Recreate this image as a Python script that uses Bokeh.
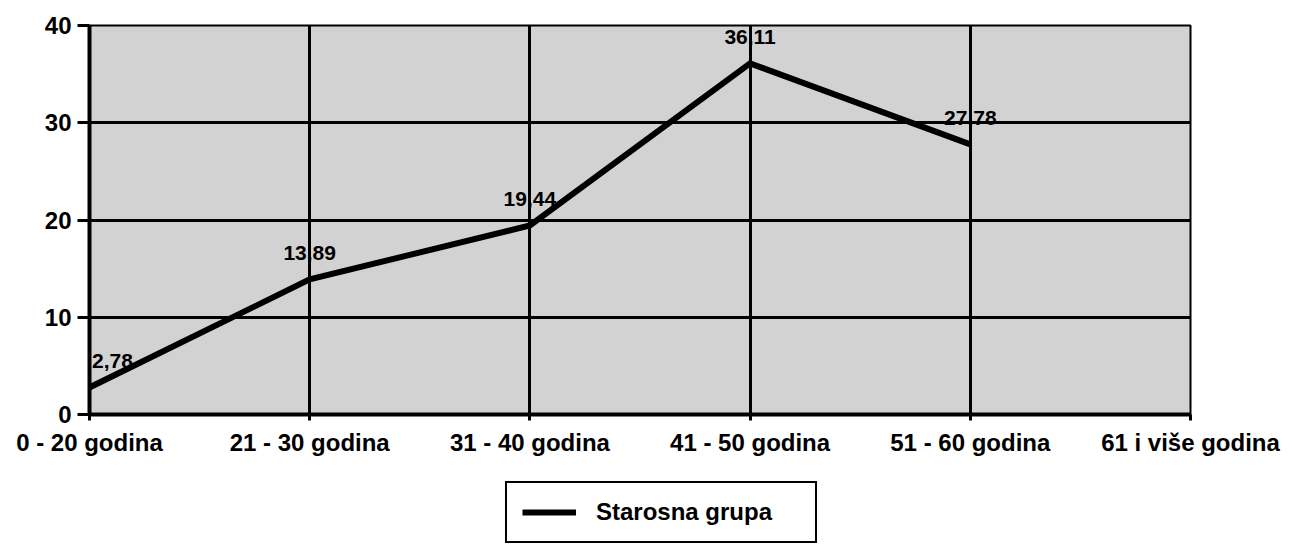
from bokeh.plotting import figure
from bokeh.layouts import column
from bokeh.models import Range1d, FixedTicker, ColumnDataSource, Legend, LegendItem
from bokeh.core.properties import value
from bokeh.embed import file_html
from bokeh.resources import INLINE

categories = ["0 - 20 godina", "21 - 30 godina", "31 - 40 godina", "41 - 50 godina", "51 - 60 godina", "61 i više godina"]
values = [2.78, 13.89, 19.44, 36.11, 27.78]
value_labels = ["2,78", "13,89", "19,44", "36,11", "27,78"]
y_ticks = [0, 10, 20, 30, 40]
series_name = "Starosna grupa"

FONT = "Liberation Sans"

p = figure(width=1303, height=466, output_backend="svg", toolbar_location=None,
           x_range=Range1d(0, len(categories) - 1), y_range=Range1d(0, 40),
           min_border_left=89, min_border_right=113, min_border_top=25, min_border_bottom=52)

p.background_fill_color = "#d2d2d2"
p.border_fill_color = "white"
p.outline_line_color = "black"
p.outline_line_width = 2

xs = list(range(len(values)))
src = ColumnDataSource(dict(x=xs, y=values, lab=value_labels, dx=[23, 0, 0, 0, 0]))

p.xaxis.ticker = FixedTicker(ticks=list(range(len(categories))))
p.xaxis.major_label_overrides = {i: c for i, c in enumerate(categories)}
p.yaxis.ticker = FixedTicker(ticks=y_ticks)
for ax in (p.xaxis, p.yaxis):
    ax.axis_line_color = "black"
    ax.axis_line_width = 4
    ax.major_tick_line_color = "black"
    ax.major_tick_line_width = 3
    ax.minor_tick_line_color = None
    ax.major_tick_in = 0
    ax.major_label_text_font = FONT
    ax.major_label_text_font_style = "bold"
    ax.major_label_text_color = "black"
p.xaxis.major_tick_out = 6
p.xaxis.major_label_standoff = 8
p.xaxis.major_label_text_font_size = "24px"
p.yaxis.major_tick_out = 12
p.yaxis.major_label_standoff = 6
p.yaxis.major_label_text_font_size = "24px"

p.xgrid.grid_line_color = "black"
p.xgrid.grid_line_width = 3
p.ygrid.grid_line_color = "black"
p.ygrid.grid_line_width = 3
p.xgrid.ticker = FixedTicker(ticks=list(range(len(categories))))
p.ygrid.ticker = FixedTicker(ticks=y_ticks)

p.line("x", "y", source=src, line_color="black", line_width=6, line_join="miter")

p.text("x", "y", text="lab", source=src, x_offset="dx", y_offset=-26,
       text_align="center", text_baseline="middle", text_font=value(FONT),
       text_font_style="bold", text_font_size="21px", text_color="black")

# legend panel below the chart (frames are aligned by the column layout)
lp = figure(width=1303, height=82, output_backend="svg", toolbar_location=None,
            x_range=Range1d(0, 1), y_range=Range1d(0, 1),
            min_border_left=0, min_border_right=0, min_border_top=0, min_border_bottom=0)
lp.axis.visible = False
lp.grid.visible = False
lp.outline_line_color = None
lp.background_fill_color = "white"
lr = lp.line(x=[-2, -1], y=[-2, -1], line_color="black", line_width=6)

legend = Legend(items=[LegendItem(label=series_name, renderers=[lr])],
                location=(416, 5), orientation="horizontal",
                border_line_color="black", border_line_width=2, border_line_alpha=1,
                background_fill_color="white", background_fill_alpha=1,
                label_text_font=FONT, label_text_font_style="bold",
                label_text_color="black", label_width=204,
                label_text_font_size="24px", glyph_width=54, glyph_height=20,
                label_standoff=20, padding=15, margin=0)
lp.add_layout(legend, "center")

layout = column(p, lp, spacing=0)
open("out.html", "w").write(file_html(layout, INLINE))
